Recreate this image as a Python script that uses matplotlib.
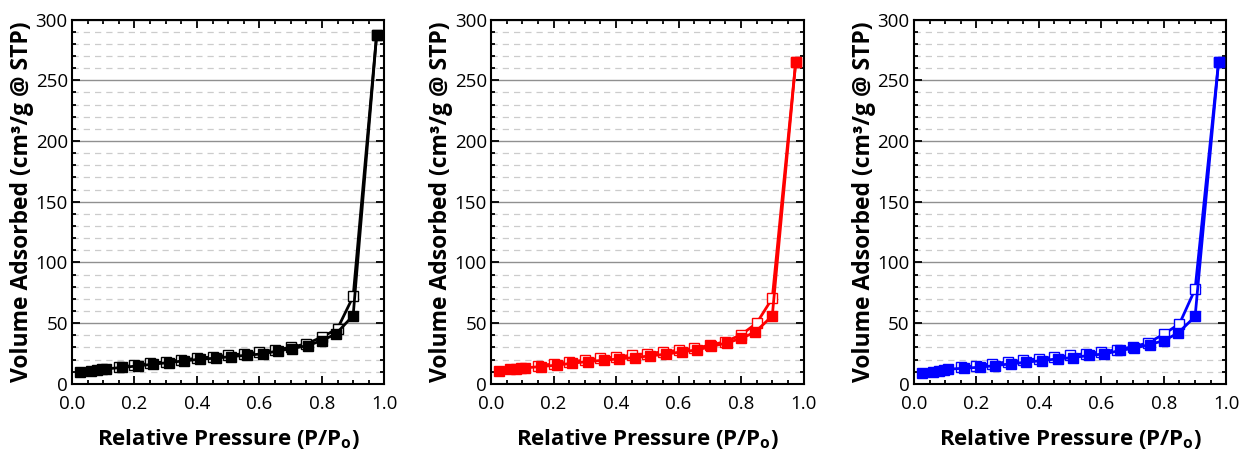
import matplotlib
matplotlib.use('Agg')
import matplotlib.pyplot as plt
from matplotlib.ticker import MultipleLocator

plt.rcParams['font.family'] = ['Open Sans', 'DejaVu Sans']
plt.rcParams['mathtext.fontset'] = 'custom'
plt.rcParams['mathtext.rm'] = 'Open Sans'
plt.rcParams['mathtext.bf'] = 'Open Sans:bold'

# adsorption branch (filled squares)
p_ads = [0.025, 0.06, 0.08, 0.095, 0.11, 0.16, 0.21, 0.26, 0.31, 0.36, 0.41,
         0.46, 0.51, 0.56, 0.61, 0.66, 0.705, 0.755, 0.80, 0.845, 0.90, 0.975]
ads_black = [10, 11, 11.5, 12, 12.4, 13.5, 14.8, 16.2, 17.6, 19, 20.3,
             21.2, 22.5, 23.6, 24.7, 27.2, 29.1, 31.6, 35.7, 41.2, 56.3, 287]
ads_red = [11, 12.1, 12.6, 12.9, 13.2, 14.3, 15.4, 17, 18.4, 19.5, 20.6,
           21.7, 23.1, 24.5, 26.4, 28, 30.8, 33.8, 37.4, 42.6, 56, 265]
ads_blue = [9, 10.1, 11, 11.5, 12.1, 12.9, 13.7, 15.1, 16.5, 17.9, 19.2,
            20.6, 21.7, 23.4, 24.7, 27.5, 29.4, 32.4, 35.7, 41.8, 55.5, 265]

# desorption branch (open squares)
p_des = [0.975, 0.90, 0.85, 0.80, 0.75, 0.70, 0.65, 0.60, 0.55, 0.50, 0.45,
         0.40, 0.35, 0.30, 0.25, 0.20, 0.15]
des_black = [287, 72, 45.5, 38.5, 33, 30, 28, 26, 24.8, 23.6, 22.3,
             21, 19.8, 18.3, 16.8, 15.3, 13.8]
des_red = [265, 70.5, 50, 40.4, 34.8, 31.8, 29.2, 27.6, 26.3, 25, 23.6,
           22.2, 21, 19.6, 18.1, 16.4, 15]
des_blue = [265, 78, 49.5, 41, 33.8, 30.5, 28.2, 26.3, 25, 23.4, 22,
            20.8, 19.4, 18.1, 16.5, 15, 13.6]

panels = [(ads_black, des_black, 'black'),
          (ads_red, des_red, '#ff0000'),
          (ads_blue, des_blue, '#0000ff')]
lefts = [0.058, 0.396, 0.737]

fig = plt.figure(figsize=(12.4, 4.57), dpi=100)

for (ads, des, col), left in zip(panels, lefts):
    ax = fig.add_axes([left, 0.16, 0.252, 0.797])
    ax.plot(p_des, des, '-s', color=col, mfc='white', mec=col, ms=7.5, mew=1.0, lw=2.0, zorder=3)
    ax.plot(p_ads, ads, '-s', color=col, ms=7.5, lw=2.0, zorder=4)

    ax.set_xlim(0, 1.0)
    ax.set_ylim(0, 300)
    ax.xaxis.set_major_locator(MultipleLocator(0.2))
    ax.xaxis.set_minor_locator(MultipleLocator(0.05))
    ax.yaxis.set_major_locator(MultipleLocator(50))
    ax.yaxis.set_minor_locator(MultipleLocator(10))
    ax.set_xticks([0, 0.2, 0.4, 0.6, 0.8, 1.0])
    ax.set_xticklabels(['0.0', '0.2', '0.4', '0.6', '0.8', '1.0'])

    ax.grid(axis='y', which='major', color='#909090', lw=1.0, ls='-', zorder=0)
    ax.grid(axis='y', which='minor', color='#cccccc', lw=0.9, ls=(0, (5, 4)), zorder=0)
    ax.set_axisbelow(True)

    ax.tick_params(which='both', direction='in', top=True, right=True, width=1.3, labelsize=13.5, pad=3)
    ax.tick_params(axis='x', which='major', pad=8)
    ax.tick_params(which='major', length=6)
    ax.tick_params(which='minor', length=3)
    for s in ax.spines.values():
        s.set_linewidth(1.5)

    ax.set_ylabel('Volume Adsorbed (cm³/g @ STP)', fontsize=16.5, fontweight='bold', labelpad=1)
    ax.set_xlabel(r'Relative Pressure (P/P$_\mathbf{o}$)', fontsize=16, fontweight='bold', labelpad=10)

fig.savefig('out.png', dpi=100)
